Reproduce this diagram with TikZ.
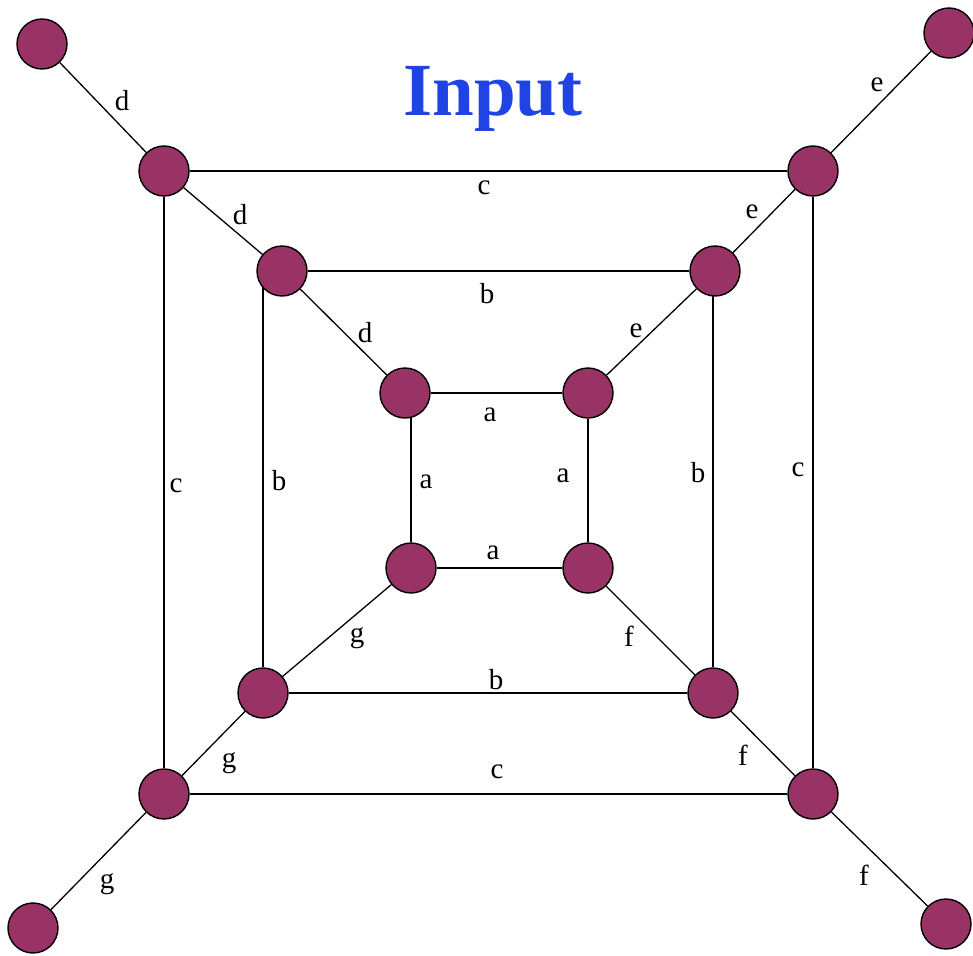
\documentclass[tikz,border=0pt]{standalone}
\usepackage{fontspec}
\setmainfont{Liberation Serif}
\usepackage{xcolor}
\usetikzlibrary{backgrounds}
\definecolor{vtxfill}{HTML}{993366}
\definecolor{titleblue}{HTML}{2043E3}

\begin{document}
\begin{tikzpicture}[x=1pt,y=-1pt,
    vtx/.style={circle,draw,line width=1.4pt,fill=vtxfill,minimum size=50pt,inner sep=0pt},
    lbl/.style={inner sep=0pt,font=\fontsize{29}{32}\selectfont},
    edge/.style={line width=1.3pt}]
    \useasboundingbox (0,0) rectangle (973,955);
    \node[anchor=base,text=titleblue,font=\fontsize{75}{80}\selectfont\bfseries] (title) at (493,115) {Input};
    % leaves
    \node[vtx] (lTL) at (42,44) {};
    \node[vtx] (lTR) at (949,33) {};
    \node[vtx] (lBL) at (33,928) {};
    \node[vtx] (lBR) at (946,924) {};
    % outer square
    \node[vtx] (oTL) at (164,171) {};
    \node[vtx] (oTR) at (813,171) {};
    \node[vtx] (oBL) at (164,794) {};
    \node[vtx] (oBR) at (813,794) {};
    % middle square
    \node[vtx] (mTL) at (282,271) {};
    \node[vtx] (mTR) at (715,271) {};
    \node[vtx] (mBL) at (263,693) {};
    \node[vtx] (mBR) at (713,693) {};
    % inner square
    \node[vtx] (iTL) at (405,393) {};
    \node[vtx] (iTR) at (588,393) {};
    \node[vtx] (iBL) at (411,568) {};
    \node[vtx] (iBR) at (588,568) {};
    \begin{pgfonlayer}{background}
        \draw[edge] (iTL) -- (iTR);
        \draw[edge] (iBL) -- (iBL |- iTL);
        \draw[edge] (iTR) -- (iBR);
        \draw[edge] (iBL) -- (iBR);
        \draw[edge] (mTL) -- (mTR);
        \draw[edge] (mBL) -- (mBL |- mTL);
        \draw[edge] (mBR) -- (mBR |- mTR);
        \draw[edge] (mBL) -- (mBR);
        \draw[edge] (oTL) -- (oTR);
        \draw[edge] (oTL) -- (oBL);
        \draw[edge] (oTR) -- (oBR);
        \draw[edge] (oBL) -- (oBR);
        \draw[edge] (lTL) -- (oTL) -- (mTL) -- (iTL);
        \draw[edge] (lTR) -- (oTR) -- (mTR) -- (iTR);
        \draw[edge] (lBR) -- (oBR) -- (mBR) -- (iBR);
        \draw[edge] (lBL) -- (oBL) -- (mBL) -- (iBL);
    \end{pgfonlayer}
    % edge labels
    \node[lbl] (d1) at (122,101) {d};
    \node[lbl] (d2) at (240,215) {d};
    \node[lbl] (d3) at (365,333) {d};
    \node[lbl] (e1) at (877,85) {e};
    \node[lbl] (e2) at (752,212) {e};
    \node[lbl] (e3) at (636,331) {e};
    \node[lbl] (c1) at (484,188) {c};
    \node[lbl] (c2) at (176,486) {c};
    \node[lbl] (c3) at (798,470) {c};
    \node[lbl] (c4) at (497,772) {c};
    \node[lbl] (b1) at (487,294) {b};
    \node[lbl] (b2) at (279,481) {b};
    \node[lbl] (b3) at (698,473) {b};
    \node[lbl] (b4) at (496,680) {b};
    \node[lbl] (a1) at (490,415) {a};
    \node[lbl] (a2) at (426,482) {a};
    \node[lbl] (a3) at (563,476) {a};
    \node[lbl] (a4) at (493,553) {a};
    \node[lbl] (g1) at (357,638) {g};
    \node[lbl] (g2) at (229,763) {g};
    \node[lbl] (g3) at (107,884) {g};
    \node[lbl] (f1) at (629,636) {f};
    \node[lbl] (f2) at (743,755) {f};
    \node[lbl] (f3) at (864,875) {f};
\end{tikzpicture}
\end{document}
